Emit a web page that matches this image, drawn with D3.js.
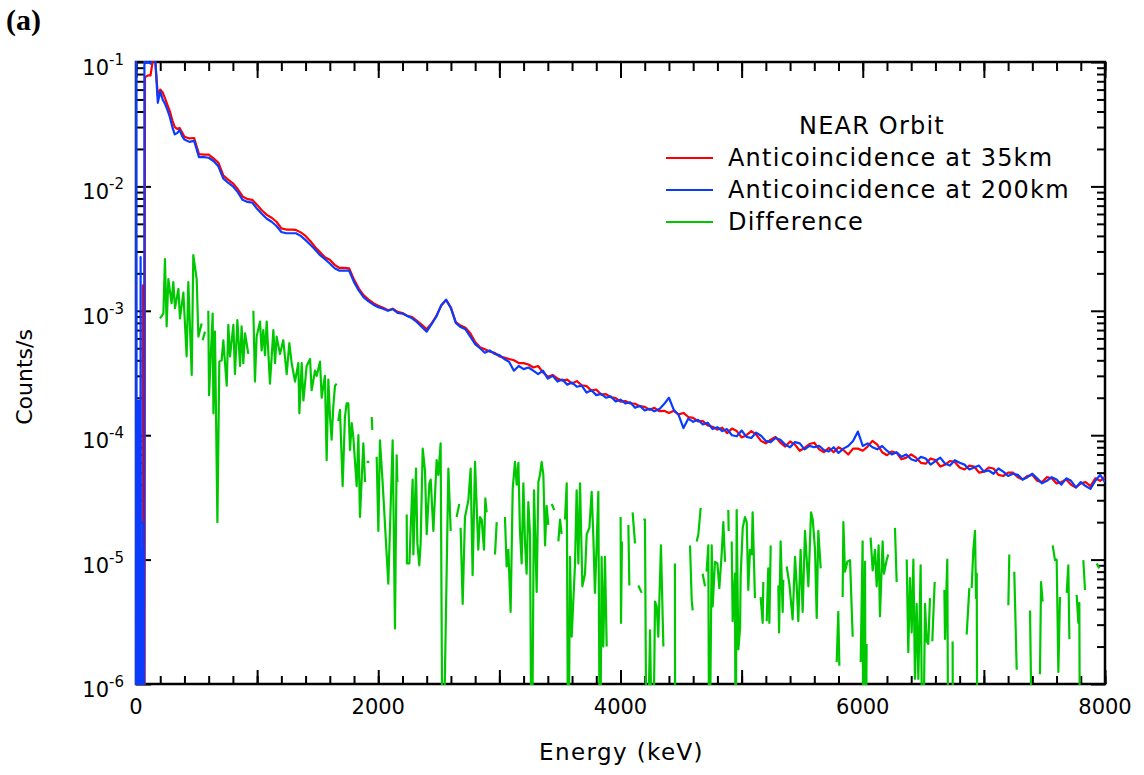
<!DOCTYPE html>
<html>
<head>
<meta charset="utf-8">
<script src="https://cdn.jsdelivr.net/npm/d3@7"></script>
<style>
  body { margin: 0; background: #fff; }
  text { font-family: "DejaVu Sans", Verdana, sans-serif; fill: #000; }
</style>
</head>
<body>
<svg id="chart" width="1144" height="775"></svg>
<script>
// Energy grid (keV) shared by the two anticoincidence spectra
const specE = [0, 2, 4, 8, 10, 12, 18, 20, 24, 30, 32, 36, 38, 42, 46, 48, 52, 56, 60, 66, 70, 74,
  80, 100, 120, 140, 160, 180, 200, 220, 240, 260, 280, 300, 320, 340, 360, 380, 400,
  440, 480, 520, 560, 600, 640, 680, 720, 760, 800,
  840, 880, 920, 960, 1000, 1040, 1080, 1120, 1160, 1200,
  1240, 1280, 1320, 1360, 1400, 1440, 1480, 1520, 1560, 1600,
  1640, 1680, 1720, 1760, 1800, 1840, 1880, 1920, 1960, 2000,
  2040, 2080, 2120, 2160, 2200, 2240, 2280, 2320, 2360, 2400,
  2440, 2480, 2520, 2560, 2600, 2640, 2680, 2720, 2760, 2800,
  2840, 2880, 2920, 2960, 3000, 3040, 3080, 3120, 3160, 3200,
  3240, 3280, 3320, 3360, 3400, 3440, 3480, 3520, 3560, 3600,
  3640, 3680, 3720, 3760, 3800, 3840, 3880, 3920, 3960, 4000,
  4040, 4080, 4120, 4160, 4200, 4240, 4280, 4320, 4360, 4400,
  4440, 4480, 4520, 4560, 4600, 4640, 4680, 4720, 4760, 4800,
  4840, 4880, 4920, 4960, 5000, 5040, 5080, 5120, 5160, 5200,
  5240, 5280, 5320, 5360, 5400, 5440, 5480, 5520, 5560, 5600,
  5640, 5680, 5720, 5760, 5800, 5840, 5880, 5920, 5960, 6000,
  6040, 6080, 6120, 6160, 6200, 6240, 6280, 6320, 6360, 6400,
  6440, 6480, 6520, 6560, 6600, 6640, 6680, 6720, 6760, 6800,
  6840, 6880, 6920, 6960, 7000, 7040, 7080, 7120, 7160, 7200,
  7240, 7280, 7320, 7360, 7400, 7440, 7480, 7520, 7560, 7600,
  7640, 7680, 7720, 7760, 7800, 7840, 7880, 7920, 7960, 8000];

// Counts/s, anticoincidence at 35 km
const rate35 = [1e-8, 1e-8, 1e-8, 1e-8, 1e-8, 1e-8, 1e-8, 1e-8, 1e-8, 1e-8, 1e-8, 1e-8, 1e-8, 1e-8, 1e-8, 1e-8, 1e-8, 1.6e-3, 1e-8, 1e-8, 1e-8, 0.076,
  0.076, 0.078, 0.078, 0.105, 0.1, 0.054, 0.060, 0.057, 0.051, 0.045, 0.040, 0.034, 0.030, 0.029, 0.0295, 0.0272, 0.0251,
  0.0243, 0.0245, 0.0182, 0.018, 0.018, 0.0168, 0.0155, 0.0123, 0.01135, 0.0106,
  0.0095, 0.0083, 0.0079, 0.0078, 0.0071, 0.0064, 0.0059, 0.0056, 0.0052, 0.0046,
  0.0045, 0.0045, 0.00447, 0.00427, 0.0040, 0.00363, 0.00324, 0.00295, 0.00269, 0.00257,
  0.00234, 0.00221, 0.00221, 0.00219, 0.00178, 0.00151, 0.00133, 0.00123, 0.00115, 0.00110,
  0.00106, 0.00101, 0.00104, 0.00098, 0.00096, 0.00091, 0.00089, 0.00083, 0.00077, 0.00071,
  0.00079, 0.00091, 0.00110, 0.00122, 0.00106, 0.00081, 0.00076, 0.00073, 0.00066, 0.00056,
  0.00051, 0.00049, 0.00047, 0.00046, 0.00043, 0.00042, 0.00041, 0.00040, 0.00038, 0.00038,
  3.7e-4, 3.5e-4, 3.6e-4, 3.2e-4, 2.95e-4, 3.05e-4, 2.85e-4, 2.75e-4, 2.8e-4, 2.6e-4,
  2.72e-4, 2.52e-4, 2.48e-4, 2.28e-4, 2.33e-4, 2.12e-4, 2.14e-4, 2.02e-4, 1.99e-4, 1.86e-4,
  1.88e-4, 1.80e-4, 1.79e-4, 1.71e-4, 1.69e-4, 1.60e-4, 1.66e-4, 1.56e-4, 1.57e-4, 1.51e-4,
  1.57e-4, 1.47e-4, 1.51e-4, 1.40e-4, 1.38e-4, 1.29e-4, 1.30e-4, 1.20e-4, 1.17e-4, 1.11e-4,
  1.15e-4, 1.04e-4, 1.13e-4, 1.08e-4, 0.96e-4, 1.00e-4, 1.08e-4, 1.01e-4, 0.90e-4, 0.86e-4,
  0.92e-4, 0.97e-4, 0.87e-4, 0.81e-4, 0.89e-4, 0.84e-4, 0.75e-4, 0.79e-4, 0.85e-4, 0.87e-4,
  0.77e-4, 0.73e-4, 0.79e-4, 0.73e-4, 0.80e-4, 0.76e-4, 0.70e-4, 0.78e-4, 0.78e-4, 0.75e-4,
  0.81e-4, 0.90e-4, 0.84e-4, 0.73e-4, 0.69e-4, 0.74e-4, 0.72e-4, 0.64e-4, 0.66e-4, 0.70e-4,
  0.66e-4, 0.60e-4, 0.59e-4, 0.65e-4, 0.63e-4, 0.56e-4, 0.58e-4, 0.62e-4, 0.61e-4, 0.55e-4,
  0.53e-4, 0.57e-4, 0.56e-4, 0.50e-4, 0.51e-4, 0.55e-4, 0.54e-4, 0.48e-4, 0.47e-4, 0.50e-4,
  0.50e-4, 0.46e-4, 0.44e-4, 0.47e-4, 0.48e-4, 0.43e-4, 0.42e-4, 0.46e-4, 0.45e-4, 0.41e-4,
  0.42e-4, 0.44e-4, 0.40e-4, 0.38e-4, 0.41e-4, 0.42e-4, 0.39e-4, 0.45e-4, 0.43e-4, 0.46e-4];

// Counts/s, anticoincidence at 200 km
const rate200 = [1e-8, 1, 1e-8, 1e-8, 6e-6, 1e-8, 1e-8, 1.9e-4, 1e-8, 1e-8, 3e-5, 1e-8, 2.7e-3, 1e-8, 1e-8, 1.2e-5, 1e-8, 1e-8, 2e-5, 1e-8, 1, 0.1,
  0.098, 0.1, 0.097, 0.108, 0.1, 0.047, 0.058, 0.050, 0.046, 0.041, 0.036, 0.030, 0.0262, 0.0268, 0.0284, 0.0255, 0.0238,
  0.0228, 0.0232, 0.0172, 0.0172, 0.0170, 0.0160, 0.0145, 0.0116, 0.0107, 0.0100,
  0.0090, 0.0078, 0.0075, 0.0074, 0.0066, 0.0060, 0.0055, 0.0052, 0.0048, 0.0043,
  0.0042, 0.0042, 0.0042, 0.0040, 0.0037, 0.0034, 0.0031, 0.0028, 0.0026, 0.0024,
  0.0022, 0.0021, 0.0021, 0.0021, 0.0017, 0.00145, 0.00128, 0.00119, 0.00112, 0.00107,
  0.00104, 0.00100, 0.00103, 0.00096, 0.00095, 0.00091, 0.00087, 0.00081, 0.00074, 0.00068,
  0.00078, 0.00090, 0.00111, 0.00123, 0.00105, 0.00080, 0.00074, 0.00071, 0.00062, 0.00054,
  0.00050, 0.00046, 0.00048, 0.00045, 0.00044, 0.00041, 0.00039, 0.00033, 0.00036, 0.00034,
  3.5e-4, 3.3e-4, 3.1e-4, 3.3e-4, 2.85e-4, 3.0e-4, 2.7e-4, 2.8e-4, 2.55e-4, 2.65e-4,
  2.45e-4, 2.5e-4, 2.2e-4, 2.3e-4, 2.1e-4, 2.15e-4, 2.0e-4, 2.05e-4, 1.87e-4, 1.93e-4,
  1.80e-4, 1.84e-4, 1.66e-4, 1.72e-4, 1.58e-4, 1.63e-4, 1.56e-4, 1.62e-4, 1.78e-4, 2.0e-4,
  1.60e-4, 1.45e-4, 1.14e-4, 1.36e-4, 1.28e-4, 1.33e-4, 1.22e-4, 1.26e-4, 1.12e-4, 1.16e-4,
  1.08e-4, 1.12e-4, 1.00e-4, 0.98e-4, 1.09e-4, 0.97e-4, 0.95e-4, 1.05e-4, 0.99e-4, 0.90e-4,
  0.88e-4, 0.95e-4, 0.92e-4, 0.84e-4, 0.80e-4, 0.88e-4, 0.86e-4, 0.77e-4, 0.82e-4, 0.80e-4,
  0.82e-4, 0.76e-4, 0.74e-4, 0.80e-4, 0.72e-4, 0.78e-4, 0.82e-4, 0.90e-4, 1.07e-4, 0.82e-4,
  0.86e-4, 0.80e-4, 0.77e-4, 0.82e-4, 0.75e-4, 0.70e-4, 0.73e-4, 0.67e-4, 0.70e-4, 0.64e-4,
  0.62e-4, 0.67e-4, 0.65e-4, 0.58e-4, 0.62e-4, 0.66e-4, 0.59e-4, 0.57e-4, 0.63e-4, 0.60e-4,
  0.58e-4, 0.53e-4, 0.55e-4, 0.57e-4, 0.51e-4, 0.52e-4, 0.49e-4, 0.54e-4, 0.51e-4, 0.47e-4,
  0.49e-4, 0.48e-4, 0.44e-4, 0.46e-4, 0.49e-4, 0.45e-4, 0.41e-4, 0.43e-4, 0.46e-4, 0.44e-4,
  0.40e-4, 0.45e-4, 0.43e-4, 0.38e-4, 0.42e-4, 0.39e-4, 0.37e-4, 0.43e-4, 0.48e-4, 0.42e-4];

// Difference spectrum: energies (keV) and counts/s (null = negative, not drawn)
const diffE = [198, 226, 239, 253, 267, 294, 308, 322, 350, 363, 391, 418, 432, 460, 473, 501, 515, 542, 546, 550, 570, 584,
  597, 603, 633, 639, 652, 672, 688, 707, 721, 749, 762, 776, 804, 817, 837, 859, 872, 886, 900, 927, 948,
  969, 982, 996, 1024, 1037, 1051, 1065, 1079, 1106, 1134, 1148, 1161, 1189, 1216, 1244, 1266, 1285, 1313,
  1340, 1349, 1368, 1382, 1409, 1437, 1450, 1478, 1492, 1519, 1533, 1547, 1560, 1574, 1588, 1602, 1615, 1629,
  1643, 1657, 1663, 1670, 1684, 1706, 1725, 1739, 1753, 1767, 1781, 1794, 1822, 1836, 1849, 1877, 1891, 1898,
  1904, 1926, 1936, 1946, 1951, 1970, 1987, 2001, 2014, 2036, 2083, 2119, 2138, 2152, 2158, 2200,
  2235, 2237, 2257, 2268, 2284, 2290, 2312, 2323, 2339, 2350, 2367, 2386, 2400, 2422, 2433, 2455, 2482, 2496,
  2515, 2532, 2579, 2598, 2620, 2647, 2669, 2675, 2680, 2697, 2716, 2744, 2763, 2779, 2799, 2826, 2840, 2854,
  2873, 2884, 2895, 2930, 2964, 2978, 3010, 3046, 3060, 3074, 3093, 3110, 3129, 3143, 3157, 3170, 3184, 3198,
  3212, 3225, 3239, 3253, 3267, 3286, 3308, 3322, 3335, 3349, 3363, 3377, 3390, 3404, 3418, 3432, 3454, 3470,
  3487, 3501, 3514, 3528, 3542, 3556, 3569, 3583, 3597, 3624, 3638, 3652, 3666, 3685, 3707, 3721, 3743, 3762,
  3776, 3789, 3803, 3817, 3831, 3844, 3858, 3872, 3886, 3950, 4001, 4004, 4012, 4040, 4065, 4073, 4085,
  4100, 4120, 4133, 4147, 4175, 4181, 4188, 4202, 4216, 4244, 4266, 4285, 4299, 4312, 4334, 4354, 4400,
  4449, 4452, 4500, 4574, 4588, 4596, 4612, 4629, 4643, 4662, 4670, 4678, 4698, 4704, 4711, 4725, 4733,
  4753, 4761, 4780, 4800, 4816, 4835, 4849, 4863, 4877, 4890, 4893, 4905, 4918, 4926, 4945, 4951, 4959,
  4973, 4987, 4992, 5009, 5028, 5042, 5055, 5069, 5083, 5091, 5110, 5130, 5157, 5174, 5179, 5190,
  5207, 5220, 5229, 5240, 5270, 5303, 5309, 5322, 5339, 5344, 5358, 5372, 5394, 5421, 5441, 5454, 5468,
  5487, 5504, 5523, 5551, 5573, 5587, 5606, 5620, 5633, 5653, 5720, 5785, 5798, 5807, 5820,
  5834, 5840, 5853, 5873, 5895, 5917, 5950, 5983, 5999, 6005, 6019, 6024, 6032, 6048,
  6065, 6082, 6101, 6115, 6131, 6142, 6164, 6175, 6197, 6211, 6240, 6266, 6280, 6320,
  6363, 6376, 6390, 6404, 6418, 6431, 6445, 6459, 6478, 6495, 6514, 6528, 6541, 6555, 6565, 6574, 6594, 6630,
  6674, 6679, 6698, 6707, 6720, 6742, 6745, 6800, 6858, 6880, 6890, 6899, 6913, 6927, 6935, 6941, 6946, 7000,
  7202, 7210, 7230, 7251, 7271, 7320, 7381, 7403, 7430, 7463, 7472, 7485, 7520,
  7568, 7587, 7601, 7615, 7628, 7650, 7684, 7697, 7706, 7730, 7766, 7780, 7788, 7794, 7805,
  7821, 7835, 7880, 7931, 7953];

const diffRate = [8.7e-4, 9.5e-4, 2.6e-3, 7.5e-4, 1.8e-3, 1.15e-3, 1.7e-3, 1.05e-3, 1.5e-3, 8.7e-4, 1.4e-3, 4.3e-4, 1.7e-3, 3.05e-4, 2.8e-3, 1.8e-3, 6.2e-4, 7.9e-4, null, 5.8e-4, 6.8e-4, null,
  1.0e-3, 2.1e-4, 9.5e-4, 1.5e-4, 6.8e-4, 2.0e-5, 3.9e-4, 4.0e-4, 5.8e-4, 2.5e-4, 7.7e-4, 4.3e-4, 7.7e-4, 3.1e-4, 8.4e-4, 3.6e-4, 7.5e-4, 3.8e-4, 6.6e-4, 4.5e-4, null,
  1.0e-3, 2.7e-4, 6.2e-4, 8.2e-4, 4.8e-4, 7.0e-4, 4.4e-4, 8.2e-4, 2.6e-4, 7.0e-4, 3.8e-4, 6.2e-4, 4.5e-4, 5.8e-4, 3.1e-4, 5.5e-4, 3.8e-4, 2.7e-4,
  3.8e-4, 1.5e-4, 3.8e-4, 1.9e-4, 3.6e-4, 4.1e-4, 2.3e-4, 3.3e-4, 3.0e-4, 3.9e-4, 2.0e-4, 2.5e-4, 3.0e-4, 6.3e-5, 2.8e-4, 1.4e-4, 9.2e-5, 1.7e-4,
  2.5e-4, 2.6e-4, null, 1.3e-4, 1.6e-4, 3.9e-5, 1.4e-4, 1.8e-4, 1.8e-4, 7.6e-5, 1.25e-4, 9.7e-5, 3.9e-5, 1.0e-4, 2.2e-5, 8.6e-5, 4.2e-5, null,
  6.1e-5, 6.1e-5, null, 1.4e-4, 1.1e-4, null, 6.7e-5, 1.7e-5, 9.1e-5, 4.2e-5, 6.4e-6, 9.1e-5, 2.8e-6, 6.9e-5, 4.2e-5, null,
  2.3e-5, 9.3e-6, 9.3e-6, 1.8e-5, 4.4e-5, 1.1e-5, 5.4e-5, 1.35e-5, 9.0e-6, 1.35e-5, 7.8e-5, 5.2e-5, 1.6e-5, 4.1e-5, 4.4e-5, 1.7e-5, 6.3e-5, 4.8e-5,
  8.6e-5, 1e-7, 5.4e-5, 1.7e-5, null, 2.2e-5, 2.8e-5, null, 1.8e-5, 4.4e-6, 2.2e-5, 3.0e-5, 5.4e-5, 7.5e-6, 6.1e-5, 1.2e-5, 2.2e-5, 2.1e-5,
  1.2e-5, 3.1e-5, 2.4e-5, null, 1.1e-5, 2.0e-5, null, 2.2e-5, 8.8e-6, 1.2e-5, 3.8e-6, 3.7e-5, 6.1e-5, 4.0e-5, 6.0e-5, 1.7e-5, 9.3e-6, 4.1e-5,
  1.35e-5, 7.7e-6, 2.9e-5, 1.6e-5, 1e-7, 3.6e-5, 5.5e-6, 4.2e-5, 4.8e-5, 6.1e-5, 4.8e-5, 1.3e-5, 2.7e-5, 1.9e-5, null, 2.8e-5, 2.5e-5, null,
  1.4e-5, 2.1e-5, 1.6e-5, null, 2.1e-5, 4.1e-5, 1e-7, 1.05e-5, 2.4e-6, 9.0e-6, 3.6e-5, 9.3e-6, 4.1e-5, 6.1e-6, 7.7e-6, 1.6e-5, 1.8e-5, 3.5e-5,
  1.5e-5, 5.4e-6, 1.3e-5, 3.5e-5, 1e-7, 1.05e-5, 2.0e-6, 1.05e-5, 2.0e-6, null, 2.2e-5, 3.1e-6, 1.4e-5, null, 1.9e-5, 6.2e-6, null,
  2.4e-5, 1.35e-5, null, 6.2e-6, 5.4e-6, null, 2.1e-5, 2.1e-5, 1e-7, 2.7e-6, 1e-7, 4.6e-6, 4.2e-6, 2.4e-6, 1.3e-5, 2.0e-6, null,
  9.3e-6, 1e-7, null, 1.3e-5, 4.7e-6, 3.9e-6, null, 1.4e-5, 1.6e-5, 2.6e-5, null, 7.7e-6, 6.1e-6, null, 8.0e-6, 1.3e-5, 1e-7,
  1.3e-5, 4.2e-6, 9.6e-6, 9.3e-6, 5.9e-6, 1.1e-5, 2.0e-5, 9.6e-6, null, 2.5e-5, 1.7e-5, null, 1.4e-5, 3.2e-6, 7.7e-6, 1e-7, 2.5e-5,
  1.9e-6, 2.8e-6, 7.3e-6, 1.8e-5, 2.2e-5, 2.0e-5, 5.7e-6, 1.2e-5, 1.1e-5, 2.4e-5, 4.9e-6, null, 5.0e-6, 3.1e-6, 6.6e-6, null,
  3.2e-6, 8.5e-6, 3.1e-6, 1.3e-5, null, 6.2e-6, 2.6e-6, 1.4e-5, 3.8e-6, 6.9e-6, null, 8.8e-6, 6.4e-6, 3.3e-6, 1.05e-5, 6.4e-6, 3.2e-6,
  1.2e-5, 3.8e-6, 1.7e-5, 6.1e-6, 2.4e-5, 2.1e-5, 1.2e-5, 3.4e-6, 1.7e-5, 8.5e-6, null, 1.5e-6, 3.8e-6, 1.4e-6, null,
  5.0e-6, 2.0e-5, 8.0e-6, 9.6e-6, 9.9e-6, 2.4e-6, null, 1.5e-6, 1.4e-5, 1e-7, 9.6e-6, 1e-7, 2.1e-6, null,
  1.5e-5, 8.2e-6, 1.2e-5, 6.1e-6, 1.3e-5, 3.5e-6, 1.4e-5, 7.7e-6, 9.9e-6, 1.1e-5, null, 1.8e-5, 6.6e-6, null,
  1.0e-5, 1.8e-6, 7.1e-6, 2.6e-6, 1.0e-5, 1.1e-6, 4.4e-6, 1.1e-6, 9.0e-6, 1e-7, 4.4e-6, 2.2e-6, 2.1e-6, 4.9e-6, null, 2.2e-6, 6.6e-6, null,
  5.7e-6, 2.3e-6, 1.0e-5, 1e-7, null, 2.2e-6, 1e-7, null, 2.5e-6, 5.9e-6, null, 5.9e-6, 1.2e-5, 1.7e-5, 4.9e-6, 7.7e-6, 1e-7, null,
  4.3e-6, 1.1e-5, null, 8.0e-6, 1.3e-6, null, 3.9e-6, 1e-7, null, 1.2e-6, 6.6e-6, 4.6e-6, null,
  1.3e-5, 9.9e-6, 1.0e-5, 1.25e-6, 5.0e-6, null, 5.4e-6, 9.0e-6, 2.3e-6, null, 5.2e-6, 3.1e-6, 4.5e-6, 1e-7, null,
  9.9e-6, 5.7e-6, null, 9.3e-6, 8.5e-6];

const seriesNames = ["Anticoincidence at 35km", "Anticoincidence at 200km", "Difference"];
const seriesColors = ["#ff0000", "#0a3cff", "#00c800"];
const xTickLabels = [0, 2000, 4000, 6000, 8000];
const yDecades = [1e-6, 1e-5, 1e-4, 1e-3, 1e-2, 1e-1];

// Margens da área do gráfico
const margin = { top: 62, right: 39, bottom: 91, left: 136 };
const width = 1144 - margin.left - margin.right;
const height = 775 - margin.top - margin.bottom;

function buildChart() {
    const svg = d3.select("#chart");

    const x = d3.scaleLinear().domain([0, 8000]).range([0, width]);
    const y = d3.scaleLog().domain([1e-6, 1e-1]).range([height, 0]);

    const g = svg.append("g")
        .attr("transform", "translate(" + margin.left + "," + margin.top + ")");

    // clip a bit wider than the frame so the spikes at 0 keV sit on the axis line
    svg.append("defs").append("clipPath")
        .attr("id", "plot-clip")
        .append("rect")
        .attr("x", -2)
        .attr("y", -1)
        .attr("width", width + 2)
        .attr("height", height + 2);

    // ticks (all pointing inwards)
    const minorX = d3.range(0, 8001, 200);
    const majorX = d3.range(0, 8001, 1000);
    const minorY = [];
    yDecades.slice(0, -1).forEach(p => {
        for (let m = 2; m <= 9; m++) minorY.push(m * p);
    });

    const axisStyle = sel => {
        sel.select(".domain").remove();
        sel.selectAll(".tick line").attr("stroke", "#000").attr("stroke-width", 2);
    };

    g.append("g").attr("transform", `translate(0,${height})`)
        .call(d3.axisBottom(x).tickValues(minorX).tickSize(-8).tickFormat(""))
        .call(axisStyle);
    g.append("g").attr("transform", `translate(0,${height})`)
        .call(d3.axisBottom(x).tickValues(majorX).tickSize(-14).tickFormat(""))
        .call(axisStyle);
    g.append("g")
        .call(d3.axisTop(x).tickValues(minorX).tickSize(-9).tickFormat(""))
        .call(axisStyle);
    g.append("g")
        .call(d3.axisTop(x).tickValues(majorX).tickSize(-16).tickFormat(""))
        .call(axisStyle);

    g.append("g")
        .call(d3.axisLeft(y).tickValues(minorY).tickSize(-8).tickFormat(""))
        .call(axisStyle);
    g.append("g")
        .call(d3.axisLeft(y).tickValues(yDecades).tickSize(-15).tickFormat(""))
        .call(axisStyle);
    g.append("g").attr("transform", `translate(${width},0)`)
        .call(d3.axisRight(y).tickValues(minorY).tickSize(-8).tickFormat(""))
        .call(axisStyle);
    g.append("g").attr("transform", `translate(${width},0)`)
        .call(d3.axisRight(y).tickValues(yDecades).tickSize(-14).tickFormat(""))
        .call(axisStyle);

    // frame
    g.append("rect")
        .attr("width", width)
        .attr("height", height)
        .attr("fill", "none")
        .attr("stroke", "#000")
        .attr("stroke-width", 2.5);

    // curves (drawn over the frame, like the original)
    const line = d3.line()
        .defined(d => d.v !== null)
        .x(d => x(d.e))
        .y(d => y(d.v));

    const curves = [
        specE.map((e, i) => ({ e: e, v: rate35[i] })),
        specE.map((e, i) => ({ e: e, v: rate200[i] })),
        diffE.map((e, i) => ({ e: e, v: diffRate[i] }))
    ];

    const plot = g.append("g").attr("clip-path", "url(#plot-clip)");
    plot.selectAll(".curve")
        .data(curves)
        .enter().append("path")
        .attr("class", "curve")
        .attr("fill", "none")
        .attr("stroke", (d, i) => seriesColors[i])
        .attr("stroke-width", 2.2)
        .attr("stroke-linejoin", "round")
        .attr("d", line);

    // x tick labels
    g.selectAll(".xlabel")
        .data(xTickLabels)
        .enter().append("text")
        .attr("class", "xlabel")
        .attr("x", d => x(d))
        .attr("y", height + 30)
        .attr("text-anchor", "middle")
        .style("font-size", "21px")
        .text(d => d);

    // y tick labels 10^n
    const ylab = g.selectAll(".ylabel")
        .data(yDecades)
        .enter().append("text")
        .attr("class", "ylabel")
        .attr("x", -12)
        .attr("y", d => y(d) + 13)
        .attr("text-anchor", "end")
        .style("font-size", "21px");
    ylab.append("tspan").text("10");
    ylab.append("tspan")
        .attr("dy", -10)
        .style("font-size", "15px")
        .text(d => "-" + Math.round(-Math.log10(d)));

    // axis titles
    svg.append("text")
        .attr("x", margin.left + width / 2 + 1)
        .attr("y", 760)
        .attr("text-anchor", "middle")
        .style("font-size", "23px")
        .style("letter-spacing", "1.4px")
        .text("Energy (keV)");

    svg.append("text")
        .attr("transform", "translate(32,377) rotate(-90)")
        .attr("text-anchor", "middle")
        .style("font-size", "22px")
        .text("Counts/s");

    svg.append("text")
        .attr("x", 6)
        .attr("y", 30)
        .style("font-family", "'Liberation Serif', 'Times New Roman', serif")
        .style("font-weight", "bold")
        .style("font-size", "30px")
        .text("(a)");

    // legend
    const legend = svg.append("g").attr("transform", "translate(666,125)");
    legend.append("text")
        .attr("x", 206)
        .attr("y", 9)
        .attr("text-anchor", "middle")
        .style("font-size", "24px")
        .style("letter-spacing", "1.2px")
        .text("NEAR Orbit");

    const items = legend.selectAll(".item")
        .data(seriesNames)
        .enter().append("g")
        .attr("class", "item")
        .attr("transform", (d, i) => `translate(0,${33 + i * 32})`);
    items.append("line")
        .attr("x1", 0).attr("x2", 47)
        .attr("stroke", (d, i) => seriesColors[i])
        .attr("stroke-width", 2.2);
    items.append("text")
        .attr("x", 62)
        .attr("y", 8)
        .style("font-size", "24px")
        .style("letter-spacing", "1.2px")
        .text(d => d);
}

buildChart();
</script>
</body>
</html>
